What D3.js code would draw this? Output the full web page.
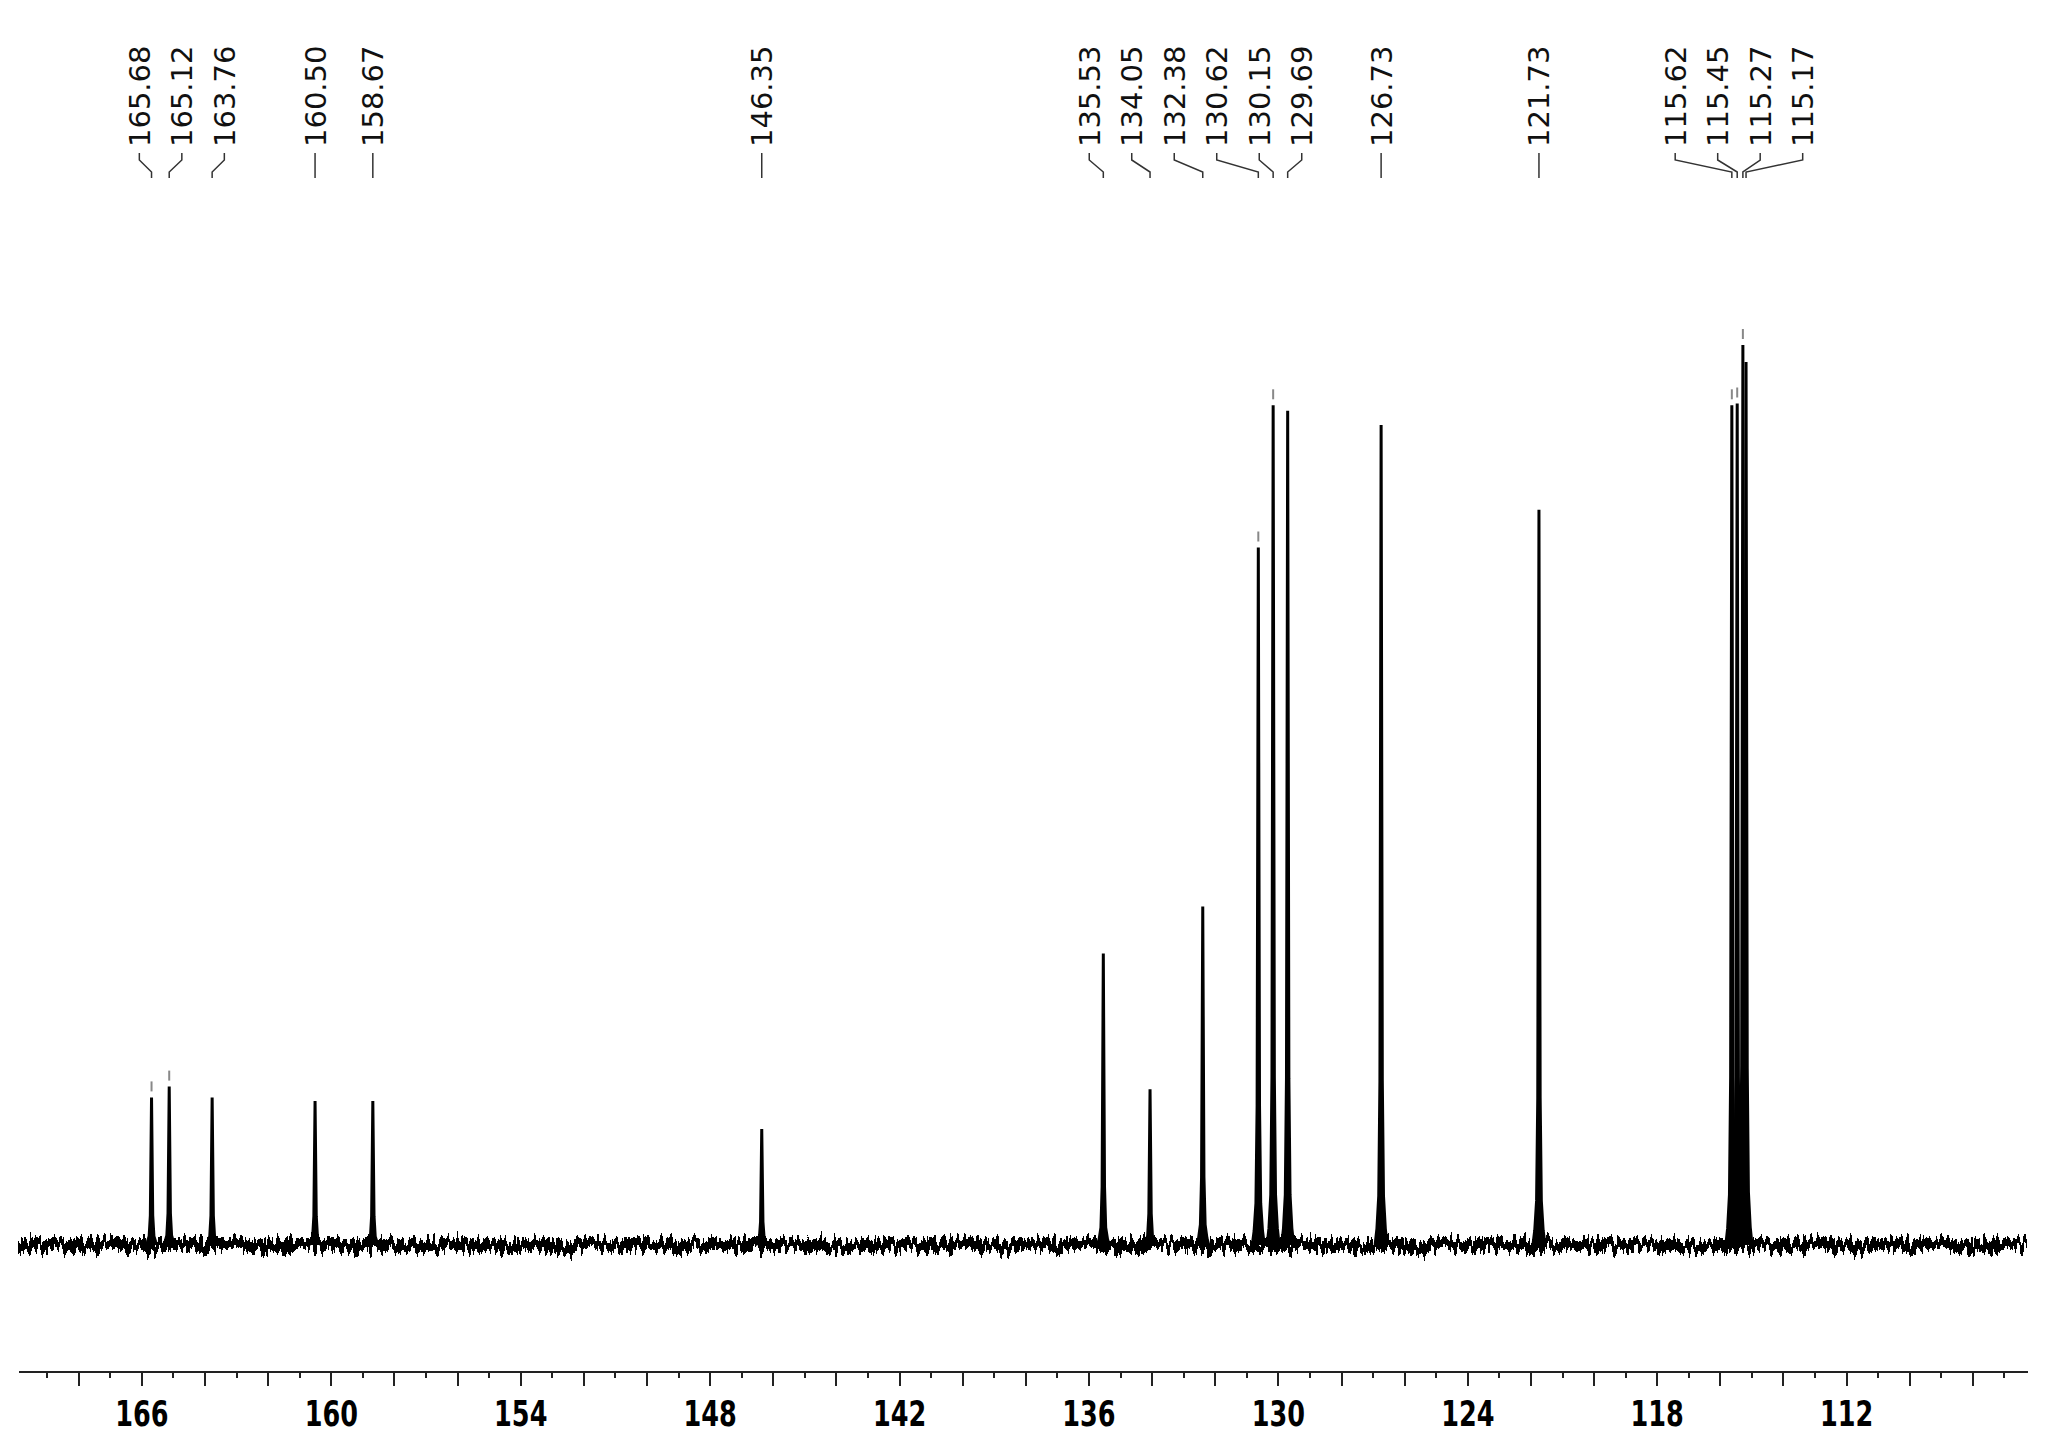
<!DOCTYPE html>
<html>
<head>
    <title>13C NMR</title>
    <meta charset="utf-8">
    <style type="text/css">
        body { margin: 0; background: #fff; }
        .axis path, .axis line {
            fill: none;
            stroke: #222;
            stroke-width: 2;
            shape-rendering: crispEdges;
        }
        .axis text {
            font-family: "DejaVu Sans", Verdana, sans-serif;
            font-size: 36px;
            font-weight: bold;
            fill: #000;
        }
        .peak-label {
            font-family: "DejaVu Sans", Verdana, sans-serif;
            font-size: 29px;
            fill: #111;
        }
    </style>
</head>
<body>
<script src="https://cdn.jsdelivr.net/npm/d3@7"></script>
<script>
    /*=========DATA=========*/
    var shifts = [165.68, 165.12, 163.76, 160.50, 158.67, 146.35, 135.53, 134.05, 132.38,
                  130.62, 130.15, 129.69, 126.73, 121.73, 115.62, 115.45, 115.27, 115.17];
    var intensities = [16.4, 17.6, 16.4, 16.0, 16.0, 12.9, 32.4, 17.3, 37.6,
                       77.5, 93.3, 92.7, 91.1, 81.7, 93.3, 93.5, 100, 98.1];
    var markedShifts = [165.68, 165.12, 130.62, 130.15, 115.62, 115.45, 115.27];
    var tickLabels = [166, 160, 154, 148, 142, 136, 130, 124, 118, 112];
    var ppmRange = [169.91, 106.27];

    /*=====SIZE SVG======*/
    var svgWidth = 2051;
    var svgHeight = 1451;
    var axisY = 1371;
    var labelGap = 42.5;   // 标签间距
    var mergeGap = 56;     // 合并阈值

    var xScale = d3.scaleLinear().domain(ppmRange).range([18, 2027]);
    var yScale = d3.scaleLinear().domain([0, 100]).range([1245, 345]);

    var svg = d3.select("body").append("svg")
        .attr("width", svgWidth).attr("height", svgHeight);

    // 噪声滤镜
    var filter = svg.append("defs").append("filter").attr("id", "noise")
        .attr("filterUnits", "userSpaceOnUse")
        .attr("x", 0).attr("y", 1170).attr("width", svgWidth).attr("height", 150)
        .attr("color-interpolation-filters", "sRGB");
    filter.append("feTurbulence").attr("type", "fractalNoise")
        .attr("baseFrequency", "0.3 0.03").attr("numOctaves", 3).attr("seed", 11)
        .attr("result", "turb");
    filter.append("feColorMatrix").attr("in", "turb").attr("type", "matrix")
        .attr("values", "0 0 0 0 0.5  0 1 0 0 0  0 0 0 0 0  0 0 0 0 1")
        .attr("result", "map");
    filter.append("feDisplacementMap").attr("in", "SourceGraphic").attr("in2", "map")
        .attr("scale", 26).attr("xChannelSelector", "R").attr("yChannelSelector", "G");

    // 坐标轴
    var allTicks = d3.range(107, 170);
    var majorAxis = d3.axisBottom(xScale).tickValues(allTicks.filter(d => d % 2 === 0))
        .tickSize(15).tickSizeOuter(0).tickFormat("");
    var minorAxis = d3.axisBottom(xScale).tickValues(allTicks.filter(d => d % 2 !== 0))
        .tickSize(7).tickSizeOuter(0).tickFormat("");
    var labelAxis = d3.axisBottom(xScale).tickValues(tickLabels)
        .tickSize(0).tickSizeOuter(0).tickPadding(29);

    svg.append("g").attr("class", "axis").attr("transform", "translate(0," + axisY + ")").call(majorAxis);
    svg.append("g").attr("class", "axis").attr("transform", "translate(0," + axisY + ")").call(minorAxis);
    var lab = svg.append("g").attr("class", "axis").attr("transform", "translate(0," + axisY + ")").call(labelAxis);
    lab.select(".domain").remove();
    lab.selectAll("text").attr("transform", "scale(0.71,1)");

    // 基线 (噪声)
    var line = d3.line().x(d => xScale(d[0])).y(d => yScale(d[1]));
    svg.append("g").attr("filter", "url(#noise)")
        .append("path")
        .attr("d", line([[ppmRange[0], 0], [ppmRange[1], 0]]))
        .attr("stroke", "#000").attr("stroke-width", 12).attr("fill", "none");

    // 峰
    var shape = [0.02, 0.06, 0.2, 1];
    var hw = 0.6;
    var peaks = shifts.map((s, i) => ({ ppm: s, h: intensities[i] }));
    svg.append("g").selectAll("path.peak").data(peaks).enter().append("path")
        .attr("class", "peak")
        .attr("d", function (d) {
            var cx = xScale(d.ppm);
            var pts = [[cx - 6, yScale(0)]];
            shape.forEach(f => pts.push([cx - hw * Math.sqrt(1 / f - 1), yScale(d.h * f)]));
            shape.slice(0, -1).reverse().forEach(f => pts.push([cx + hw * Math.sqrt(1 / f - 1), yScale(d.h * f)]));
            pts.push([cx + 6, yScale(0)]);
            return d3.line()(pts);
        })
        .attr("fill", "#000").attr("stroke", "#000").attr("stroke-width", 3)
        .attr("stroke-linejoin", "bevel");

    // 峰顶标记
    svg.append("g").selectAll("line.mark").data(peaks.filter(d => markedShifts.indexOf(d.ppm) >= 0))
        .enter().append("line").attr("class", "mark")
        .attr("x1", d => xScale(d.ppm)).attr("x2", d => xScale(d.ppm))
        .attr("y1", d => yScale(d.h) - 6).attr("y2", d => yScale(d.h) - 16)
        .attr("stroke", "#888").attr("stroke-width", 2);

    // 标签位置: 重叠的标签成组, 以组内峰的两端中点居中
    function layoutLabels(xs) {
        var clusters = xs.map(x => ({ n: 1, lo: x, hi: x }));
        var center = c => (c.lo + c.hi) / 2;
        var changed = true;
        while (changed) {
            changed = false;
            for (var i = 0; i < clusters.length - 1; i++) {
                var a = clusters[i], b = clusters[i + 1];
                var aEnd = center(a) + (a.n - 1) * labelGap / 2;
                var bStart = center(b) - (b.n - 1) * labelGap / 2;
                if (bStart - aEnd < mergeGap) {
                    a.n += b.n; a.hi = b.hi;
                    clusters.splice(i + 1, 1);
                    changed = true;
                    break;
                }
            }
        }
        var out = [];
        clusters.forEach(c => {
            var c0 = center(c) - (c.n - 1) * labelGap / 2;
            for (var k = 0; k < c.n; k++) out.push(c0 + k * labelGap);
        });
        return out;
    }
    var labelX = layoutLabels(shifts.map(s => xScale(s)));

    var labelG = svg.append("g").attr("class", "labels");
    labelG.selectAll("path").data(peaks).enter().append("path")
        .attr("d", (d, i) => d3.line()([[labelX[i], 153], [labelX[i], 160], [xScale(d.ppm), 172], [xScale(d.ppm), 178]]))
        .attr("fill", "none").attr("stroke", "#333").attr("stroke-width", 1.5);
    labelG.selectAll("text").data(peaks).enter().append("text")
        .attr("class", "peak-label")
        .attr("transform", (d, i) => "translate(" + labelX[i] + ",147) rotate(-90)")
        .attr("dy", "0.36em")
        .text(d => d.ppm.toFixed(2));
</script>
</body>
</html>
